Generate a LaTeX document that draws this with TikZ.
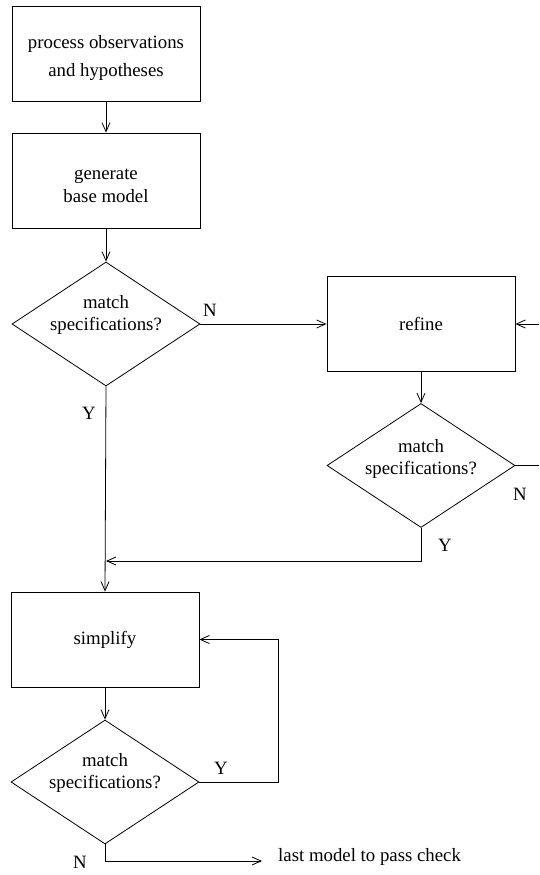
\documentclass[tikz,border=0pt]{standalone}
\usepackage{fontspec}
\setmainfont{Liberation Serif}
\usetikzlibrary{shapes.geometric,arrows.meta,calc}
\begin{document}
\begin{tikzpicture}[x=1pt,y=-1pt,
  every node/.style={font=\fontsize{18.8}{22}\selectfont},
  box/.style={draw, rectangle, minimum width=188pt, minimum height=95pt, inner sep=0pt, line width=0.8pt},
  dia/.style={draw, diamond, minimum width=188pt, minimum height=124pt, inner sep=0pt, line width=0.8pt},
  txt/.style={align=center, inner sep=0pt},
  lbl/.style={inner sep=0pt},
  conn/.style={line width=0.8pt},
  arr/.style={conn, -{Straight Barb[length=9pt,width=8pt]}}]
\useasboundingbox (0,0) rectangle (539,875);

% shapes
\node[box] (b1) at (106,54) {};
\node[txt, font=\fontsize{18.8}{28}\selectfont] (t1) at ($(b1)+(0,4)$) {process observations\\and hypotheses};
\node[box] (b2) at (106,180.5) {};
\node[txt, font=\fontsize{18.8}{23}\selectfont] (t2) at ($(b2)+(0,5.5)$) {generate\\base model};
\node[dia] (d1) at (106,324) {};
\node[txt] (t3) at ($(d1)+(0,-9)$) {match\\specifications?};
\node[box] (r) at (421,324) {refine};
\node[dia] (d2) at (421,465.5) {};
\node[txt] (t4) at ($(d2)+(0,-7)$) {match\\specifications?};
\node[box] (s) at (105,639.5) {simplify};
\node[dia] (d3) at (105,782) {};
\node[txt] (t5) at ($(d3)+(0,-9)$) {match\\specifications?};

% free ends and corners
\coordinate (m) at (106,561);
\coordinate (e1) at (539,465.5);
\coordinate (e2) at (539,324);
\coordinate (sloop) at (278,639.5);
\coordinate (out) at (262,861);

% connectors
\draw[arr] (b1.south) -- (b2.north);
\draw[arr] (b2.south) -- (d1.north);
\draw[arr] (d1.east) -- (r.west);
\draw[arr] (d1.south) -- (s.north);
\draw[arr] (r.south) -- (d2.north);
\draw[arr] (d2.south) |- (m);
\draw[conn] (d2.east) -- (e1);
\draw[arr] (e2) -- (r.east);
\draw[arr] (s.south) -- (d3.north);
\draw[arr] (d3.east) -| (sloop) -- (s.east);
\draw[arr] (d3.south) |- (out);

% labels
\node[lbl] (n1) at (210,310.5) {N};
\node[lbl] (y1) at (89,413) {Y};
\node[lbl] (n2) at (520,494) {N};
\node[lbl] (y2) at (445,545) {Y};
\node[lbl] (y3) at (221,768) {Y};
\node[lbl] (n3) at (80,862) {N};
\node[lbl, anchor=base west] (res) at (278,861) {last model to pass check};
\end{tikzpicture}
\end{document}
